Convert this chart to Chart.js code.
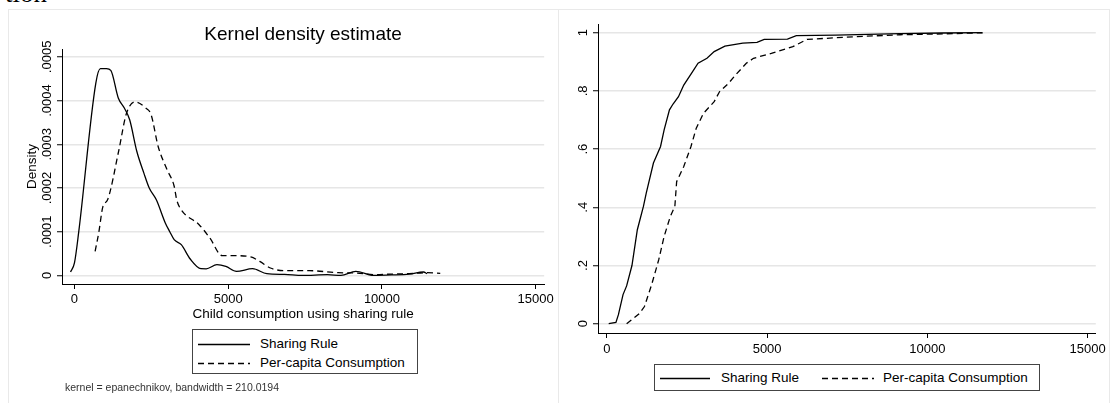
<!DOCTYPE html>
<html>
<head>
<meta charset="utf-8">
<script src="https://cdn.jsdelivr.net/npm/chart.js@4.4.0/dist/chart.umd.min.js"></script>
<style>
  body { margin: 0; background: #fff; width: 1110px; height: 403px; overflow: hidden; position: relative; font-family: "Liberation Sans", Arial, sans-serif; }
  canvas { position: absolute; top: 0; }
  .frame { position: absolute; background: #e9e9e9; }
  .cut { position: absolute; left: 5px; top: -22px; font: 27px "Liberation Serif", "DejaVu Serif", serif; color: #000; }
  .legend { position: absolute; border: 1px solid #444; box-sizing: border-box; background: #fff; }
  .legend .item { position: absolute; height: 16px; }
  .legend svg { position: absolute; left: 0; top: 0; overflow: visible; }
  .legend span { position: absolute; top: 0; font-size: 13.5px; line-height: 16px; white-space: nowrap; color: #000; }
  .note { position: absolute; left: 65px; top: 381px; font-size: 10.5px; color: #333; white-space: nowrap; }
</style>
</head>
<body>
<div class="cut">tion</div>
<div class="frame" style="left:8px;top:9px;width:1102px;height:1px"></div>
<div class="frame" style="left:8px;top:9px;width:1px;height:394px"></div>
<div class="frame" style="left:558px;top:9px;width:1px;height:394px"></div>
<div class="frame" style="left:1109px;top:9px;width:1px;height:394px"></div>
<canvas id="kdensity" width="557" height="403" style="left:0"></canvas>
<canvas id="cdf" width="551" height="403" style="left:559px"></canvas>
<div class="legend" id="legendLeft" style="left:192px;top:329px;width:226px;height:45px"></div>
<div class="legend" id="legendRight" style="left:654px;top:364px;width:386px;height:27px"></div>
<div class="note">kernel = epanechnikov, bandwidth = 210.0194</div>
<script>
// tick labels
const xTicks = [0, 5000, 10000, 15000];
const kdensityYTicks = [0, 0.0001, 0.0002, 0.0003, 0.0004, 0.0005];
const cdfYTicks = [0, 0.2, 0.4, 0.6, 0.8, 1];

const seriesNames = ['Sharing Rule', 'Per-capita Consumption'];

// kernel density, sharing rule
const kdSharingX = [-127, 0, 139, 695, 845, 1042, 1182, 1425, 1622, 1796, 2027, 2258, 2432, 2663, 2954, 3104, 3243, 3474, 3765, 4112, 4285, 4634, 4923, 5270, 5792, 6256, 6834, 7413, 8225, 8666, 9150, 9730, 10310, 10888, 11352, 11468];
const kdSharingY = [0.0000078, 0.0000284, 0.0000994, 0.00044, 0.000473, 0.000473, 0.000469, 0.000406, 0.000383, 0.000356, 0.000284, 0.000234, 0.0002, 0.000173, 0.00012, 0.0000994, 0.0000817, 0.0000703, 0.0000375, 0.0000153, 0.000015, 0.0000245, 0.0000206, 0.0000092, 0.0000153, 0.0000039, 0.0000023, 0, 0.0000016, 0, 0.0000092, 0, 0.000001, 0.000003, 0.0000078, 0.000004];

// kernel density, per-capita consumption
const kdPerCapX = [672, 788, 927, 1077, 1448, 1680, 1969, 2317, 2491, 2722, 3012, 3243, 3325, 3474, 4054, 4402, 4807, 5213, 5734, 6024, 6372, 6834, 7645, 8572, 9150, 9730, 10310, 10888, 11468, 11896];
const kdPerCapY = [0.000055, 0.000097, 0.000158, 0.000173, 0.000288, 0.000368, 0.000397, 0.000383, 0.000368, 0.000295, 0.000242, 0.000204, 0.000173, 0.00015, 0.000116, 0.0000856, 0.0000451, 0.0000451, 0.0000421, 0.000032, 0.0000169, 0.0000108, 0.0000108, 0.0000062, 0.0000055, 0.0000016, 0.000003, 0.0000039, 0.0000062, 0.0000046];

// cumulative distributions
const cdfSharingX = [59, 284, 362, 506, 618, 784, 952, 1142, 1230, 1454, 1676, 1788, 1954, 2066, 2235, 2400, 2625, 2846, 3124, 3349, 3683, 4241, 4685, 4909, 5634, 5911, 7138, 9145, 10484, 11708];
const cdfSharingY = [0, 0.0046, 0.031, 0.1, 0.13, 0.2, 0.323, 0.403, 0.449, 0.552, 0.609, 0.666, 0.735, 0.755, 0.78, 0.82, 0.858, 0.895, 0.912, 0.935, 0.954, 0.964, 0.967, 0.977, 0.978, 0.99, 0.992, 0.997, 0.999, 1];
const cdfPerCapX = [618, 1008, 1174, 1398, 1620, 1788, 1979, 2122, 2178, 2400, 2625, 2790, 3015, 3349, 3514, 3795, 4017, 4351, 4575, 5131, 5802, 6245, 7697, 9145, 10484, 11820];
const cdfPerCapY = [0, 0.034, 0.059, 0.134, 0.22, 0.3, 0.368, 0.403, 0.488, 0.54, 0.609, 0.672, 0.723, 0.763, 0.797, 0.826, 0.855, 0.895, 0.912, 0.929, 0.952, 0.977, 0.986, 0.993, 0.996, 1];

const FONT = '"Liberation Sans", Arial, sans-serif';
const dashes = [[], [6, 4]];

function pairs(xs, ys) {
    return xs.map((x, i) => ({ x: x, y: ys[i] }));
}

// stata style: .0005 instead of 0.0005
function stataLabel(v) {
    if (v === 0) return '0';
    return String(parseFloat(v.toPrecision(6))).replace(/^0\./, '.');
}

// y tick labels turned 90 degrees, like stata draws them
const rotatedYLabels = {
    id: 'rotatedYLabels',
    afterDraw(chart, args, opts) {
        const scale = chart.scales.y;
        const ctx = chart.ctx;
        ctx.save();
        ctx.font = '13px ' + FONT;
        ctx.fillStyle = '#000';
        ctx.textAlign = 'center';
        ctx.textBaseline = 'middle';
        scale.ticks.forEach(t => {
            const py = scale.getPixelForValue(t.value);
            ctx.save();
            ctx.translate(scale.right - opts.offset, py);
            ctx.rotate(-Math.PI / 2);
            ctx.fillText(stataLabel(t.value), 0, 0);
            ctx.restore();
        });
        ctx.restore();
    }
};

function lineSet(label, data, i, smooth) {
    return {
        label: label,
        data: data,
        borderColor: '#000',
        borderWidth: 1.3,
        borderDash: dashes[i],
        pointRadius: 0,
        fill: false,
        cubicInterpolationMode: smooth ? 'monotone' : 'default',
        tension: 0
    };
}

function makeScales(o) {
    return {
        x: {
            type: 'linear',
            min: o.xMin,
            max: o.xMax,
            afterBuildTicks: s => { s.ticks = xTicks.map(v => ({ value: v })); },
            afterFit: s => { s.height = o.xHeight; },
            border: { color: '#000', width: 1 },
            grid: { drawOnChartArea: false, tickLength: 5, tickColor: '#000', tickWidth: 1 },
            ticks: { padding: o.xPad, color: '#000', font: { family: FONT, size: 13 }, maxRotation: 0, callback: v => String(v) },
            title: o.xTitle ? { display: true, text: o.xTitle, color: '#000', font: { family: FONT, size: 13.5 }, padding: { top: 0, bottom: 1.9 } } : { display: false }
        },
        y: {
            type: 'linear',
            min: o.yMin,
            max: o.yMax,
            afterBuildTicks: s => { s.ticks = o.yTicks.map(v => ({ value: v })); },
            afterFit: s => { s.width = o.yWidth; },
            border: { color: '#000', width: 1 },
            grid: { color: '#e6e6e6', lineWidth: 1.5, tickLength: 5, tickColor: '#000', tickWidth: 1 },
            ticks: { display: false },
            title: o.yTitle ? { display: true, text: o.yTitle, color: '#000', font: { family: FONT, size: 13.5 }, padding: { top: 23.9, bottom: 0 } } : { display: false }
        }
    };
}

const common = {
    responsive: false,
    animation: false,
    devicePixelRatio: 1,
    events: []
};

const kdChart = new Chart(document.getElementById('kdensity'), {
    type: 'line',
    data: {
        datasets: [
            lineSet(seriesNames[0], pairs(kdSharingX, kdSharingY), 0, true),
            lineSet(seriesNames[1], pairs(kdPerCapX, kdPerCapY), 1, true)
        ]
    },
    options: Object.assign({}, common, {
        layout: { padding: { left: 0, right: 11, top: 0, bottom: 79 } },
        scales: makeScales({
            xMin: -405, xMax: 15276, xHeight: 40, xPad: 3,
            xTitle: 'Child consumption using sharing rule',
            yMin: -0.0000197, yMax: 0.000518, yTicks: kdensityYTicks, yWidth: 62,
            yTitle: 'Density'
        }),
        plugins: {
            legend: { display: false },
            tooltip: { enabled: false },
            title: {
                display: true,
                text: 'Kernel density estimate',
                fullSize: false,
                color: '#000',
                font: { family: FONT, size: 19, weight: 'normal' },
                padding: { top: 23.6, bottom: 2.6 }
            },
            rotatedYLabels: { offset: 15 }
        }
    }),
    plugins: [rotatedYLabels]
});

const cdfChart = new Chart(document.getElementById('cdf'), {
    type: 'line',
    data: {
        datasets: [
            lineSet(seriesNames[0], pairs(cdfSharingX, cdfSharingY), 0, false),
            lineSet(seriesNames[1], pairs(cdfPerCapX, cdfPerCapY), 1, false)
        ]
    },
    options: Object.assign({}, common, {
        layout: { padding: { left: 0, right: 14, top: 24, bottom: 40 } },
        scales: makeScales({
            xMin: -275, xMax: 15253, xHeight: 30, xPad: 4,
            yMin: -0.0319, yMax: 1.0299, yTicks: cdfYTicks, yWidth: 39
        }),
        plugins: {
            legend: { display: false },
            tooltip: { enabled: false },
            title: { display: false },
            rotatedYLabels: { offset: 15 }
        }
    }),
    plugins: [rotatedYLabels]
});

// stata style legend boxes, built from the datasets
function buildLegend(id, chart, spots) {
    const box = document.getElementById(id);
    chart.data.datasets.forEach((ds, i) => {
        const s = spots[i];
        const item = document.createElement('div');
        item.className = 'item';
        item.style.left = s.x + 'px';
        item.style.top = (s.y - 8) + 'px';
        const w = s.len;
        item.innerHTML =
            '<svg width="' + w + '" height="16"><line x1="0" y1="8.5" x2="' + w + '" y2="8.5" stroke="#000" stroke-width="1.3"' +
            (ds.borderDash.length ? ' stroke-dasharray="' + ds.borderDash.join(' ') + '"' : '') + '/></svg>' +
            '<span style="left:' + (w + s.gap) + 'px">' + ds.label + '</span>';
        box.appendChild(item);
    });
}

buildLegend('legendLeft', kdChart, [
    { x: 5, y: 14, len: 52, gap: 10 },
    { x: 5, y: 33, len: 52, gap: 10 }
]);
buildLegend('legendRight', cdfChart, [
    { x: 5, y: 13, len: 50, gap: 11 },
    { x: 167, y: 13, len: 52, gap: 9 }
]);
</script>
</body>
</html>
